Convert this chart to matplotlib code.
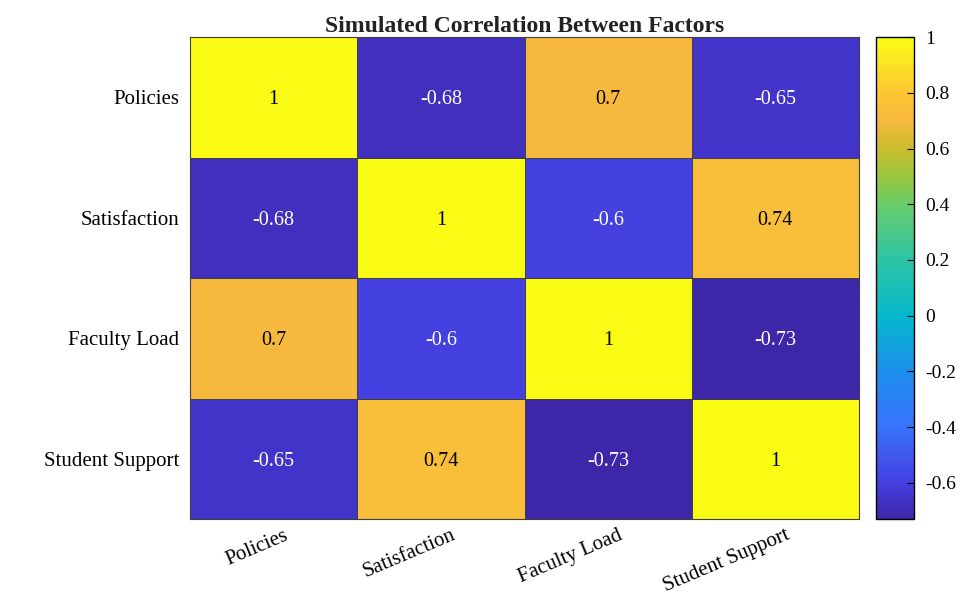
import matplotlib.pyplot as plt
import matplotlib.transforms as mtransforms
import numpy as np
from matplotlib.colors import LinearSegmentedColormap

plt.rcParams['font.family'] = ['Liberation Serif', 'DejaVu Serif']

# Data
factors = ['Policies', 'Satisfaction', 'Faculty Load', 'Student Support']
corr = np.array([
    [1.00, -0.68, 0.70, -0.65],
    [-0.68, 1.00, -0.60, 0.74],
    [0.70, -0.60, 1.00, -0.73],
    [-0.65, 0.74, -0.73, 1.00],
])
cbar_ticks = [-0.6, -0.4, -0.2, 0, 0.2, 0.4, 0.6, 0.8, 1]

# parula-like colormap (approximated)
anchors = [
    (0.00, (0.2422, 0.1504, 0.6603)),
    (0.04, (0.260, 0.200, 0.780)),
    (0.075, (0.270, 0.250, 0.880)),
    (0.19, (0.220, 0.450, 0.990)),
    (0.30, (0.120, 0.550, 0.930)),
    (0.42, (0.020, 0.720, 0.800)),
    (0.54, (0.180, 0.770, 0.640)),
    (0.65, (0.400, 0.800, 0.420)),
    (0.71, (0.600, 0.780, 0.250)),
    (0.77, (0.800, 0.740, 0.180)),
    (0.83, (0.970, 0.725, 0.245)),
    (0.885, (0.990, 0.780, 0.200)),
    (1.00, (0.977, 0.984, 0.080)),
]
parula = LinearSegmentedColormap.from_list('parula', anchors)

vmin, vmax = corr.min(), corr.max()

fig = plt.figure(figsize=(9.62, 5.99), dpi=100)
ax = fig.add_axes([0.1975, 0.1336, 0.6955, 0.8044])
cax = fig.add_axes([0.9106, 0.1336, 0.0395, 0.8044])

n = len(factors)
mesh = ax.pcolormesh(np.arange(n + 1), np.arange(n + 1), corr, cmap=parula,
                     vmin=vmin, vmax=vmax, edgecolor='#404040', linewidth=0.6)
ax.set_xlim(0, n)
ax.set_ylim(n, 0)

for i in range(n):
    for j in range(n):
        v = corr[i, j]
        color = 'white' if v < 0.3 else 'black'
        ax.text(j + 0.5, i + 0.5, f'{v:g}', ha='center', va='center_baseline',
                fontsize=14.5, color=color)

ax.set_xticks(np.arange(n) + 0.5)
ax.set_yticks(np.arange(n) + 0.5)
ax.set_xticklabels(factors, rotation=23, ha='right', rotation_mode='anchor',
                   fontsize=15)
ax.set_yticklabels(factors, fontsize=15)
ax.tick_params(axis='y', length=0, pad=8)
ax.tick_params(axis='x', length=0, pad=5)
shift = mtransforms.ScaledTranslation(10 / 100, 0, fig.dpi_scale_trans)
for lbl in ax.get_xticklabels():
    lbl.set_transform(lbl.get_transform() + shift)
for s in ax.spines.values():
    s.set_color('#404040')
    s.set_linewidth(0.8)

ax.set_title('Simulated Correlation Between Factors', fontsize=17,
             fontweight='bold', pad=3, color='#222222')

cb = fig.colorbar(mesh, cax=cax, ticks=cbar_ticks)
cb.ax.set_yticklabels([f'{t:g}' for t in cbar_ticks])
cb.ax.tick_params(direction='in', length=5, labelsize=14, width=0.8, pad=8)
cb.outline.set_linewidth(1.0)

fig.savefig('out.png', dpi=100)
